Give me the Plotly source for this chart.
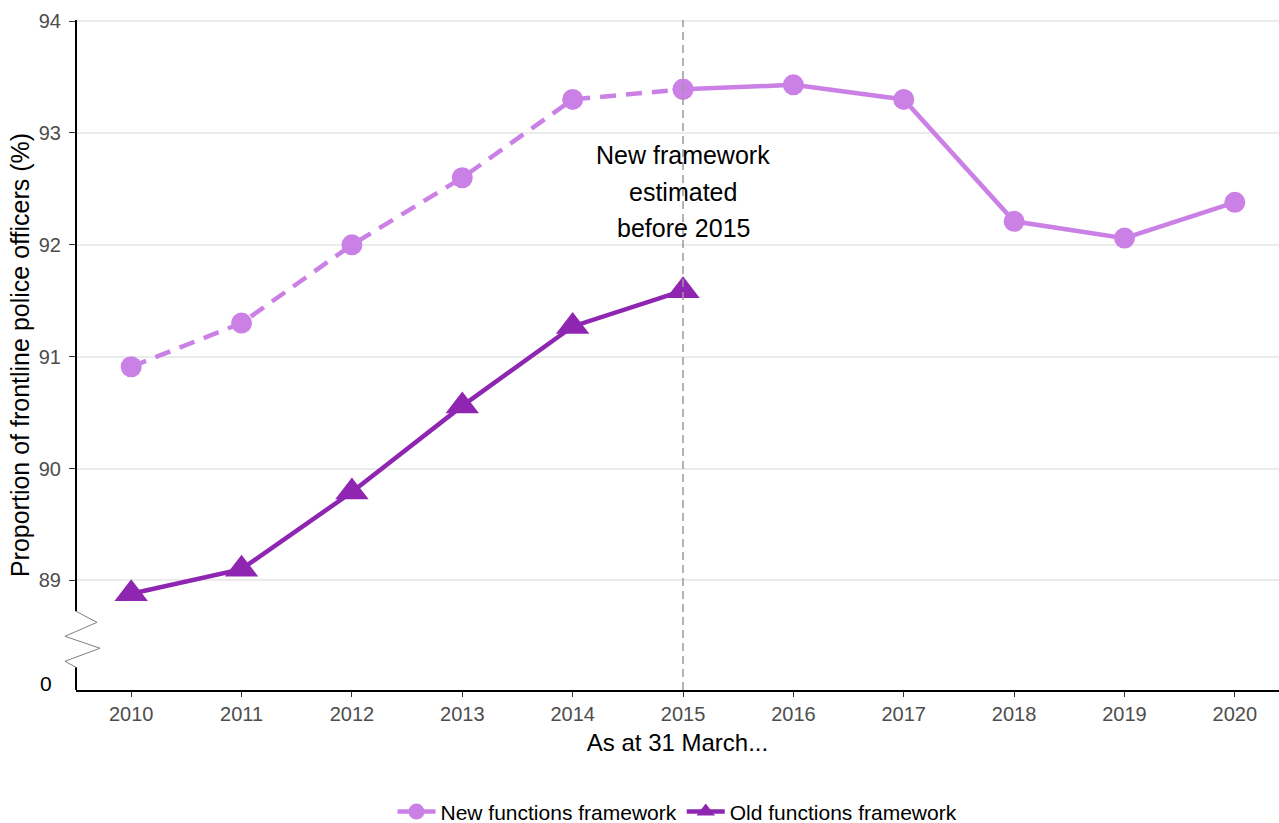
import plotly.graph_objects as go

# Dades llegides del gràfic
anys = [2010, 2011, 2012, 2013, 2014, 2015, 2016, 2017, 2018, 2019, 2020]
nou_marc = [90.91, 91.30, 92.00, 92.60, 93.30, 93.39, 93.43, 93.30, 92.21, 92.06, 92.38]
anys_antic = [2010, 2011, 2012, 2013, 2014, 2015]
antic_marc = [88.88, 89.10, 89.79, 90.56, 91.27, 91.59]
y_ticks = [89, 90, 91, 92, 93, 94]
nota = ["New framework", "estimated", "before 2015"]

col_nou = "#CB80E6"
col_antic = "#8F26B2"
font_txt = "Liberation Sans, Arial, sans-serif"

fig = go.Figure()

# Part estimada (discontínua) fins al 2015
fig.add_trace(go.Scatter(
    x=anys[:6], y=nou_marc[:6], mode="lines+markers",
    line=dict(color=col_nou, width=4.5, dash="16px,10px"),
    marker=dict(size=21, color=col_nou, symbol="circle"),
    showlegend=False, hoverinfo="skip"))

fig.add_trace(go.Scatter(
    x=anys[5:], y=nou_marc[5:], mode="lines+markers",
    name="New functions framework",
    line=dict(color=col_nou, width=4.5),
    marker=dict(size=21, color=col_nou, symbol="circle")))

fig.add_trace(go.Scatter(
    x=anys_antic, y=antic_marc, mode="lines+markers",
    name="Old functions framework",
    line=dict(color=col_antic, width=4.5),
    marker=dict(size=29, color=col_antic, symbol="triangle-up")))

# Línia vertical del 2015
fig.add_shape(type="line", x0=2015, x1=2015, y0=0, y1=1, xref="x", yref="paper",
              line=dict(color="#9A9A9A", width=1.5, dash="8px,5px"), layer="above")

# Eix esquerre amb el tall (zig-zag)
eix = dict(color="black", width=2)
fig.add_shape(type="line", xref="paper", yref="y", x0=0, x1=0, y0=94.01, y1=88.723, line=eix)
fig.add_shape(type="line", xref="paper", yref="y", x0=0, x1=0, y0=88.223, y1=88.02, line=eix)
fig.add_shape(type="path", xref="paper", yref="y",
              path="M 0,88.723 L 0.0175,88.625 L -0.0092,88.5 L 0.0200,88.393 L -0.0092,88.277 L 0,88.223",
              line=dict(color="#808080", width=1))

# Etiqueta "0" de l'eix trencat
fig.add_annotation(x=0, y=88.08, xref="paper", yref="y", text="0", showarrow=False,
                   xanchor="right", xshift=-22, font=dict(size=21, color="black", family=font_txt))

# Text de la nota
for k, linia in enumerate(nota):
    fig.add_annotation(x=2015, y=92.80 - k * 0.325, text=linia, showarrow=False,
                       font=dict(size=25, color="black", family=font_txt))

fig.update_layout(
    width=1279, height=823,
    margin=dict(l=76, r=0, t=20, b=133, autoexpand=False),
    plot_bgcolor="white", paper_bgcolor="white",
    font=dict(family=font_txt),
    showlegend=True,
    legend=dict(orientation="h", x=0.5, xanchor="center", y=-0.182, yanchor="middle",
                itemwidth=38, font=dict(size=21, color="black")),
    xaxis=dict(
        range=[2009.5, 2020.4], tickvals=anys, showgrid=False, zeroline=False,
        showline=True, linecolor="black", linewidth=2, automargin=False,
        ticks="outside", ticklen=5, tickcolor="#333333",
        tickfont=dict(size=20, color="#4D4D4D"),
        title=dict(text="As at 31 March...", font=dict(size=24, color="black"), standoff=10)),
    yaxis=dict(
        range=[88.02, 94.01], tickvals=y_ticks, showgrid=True, gridcolor="#EBEBEB", gridwidth=1.5,
        zeroline=False, showline=False, automargin=False,
        ticks="outside", ticklen=6, tickcolor="#333333", ticklabelstandoff=4,
        tickfont=dict(size=20, color="#4D4D4D"),
        title=dict(text="Proportion of frontline police officers (%)",
                   font=dict(size=25, color="black"), standoff=2)),
)

# Traiem el marge del body perquè la figura comenci a (0, 0)
fig.write_html("out.html", config={"displayModeBar": False},
               post_script="document.body.style.margin='0';document.body.style.overflow='hidden';")
